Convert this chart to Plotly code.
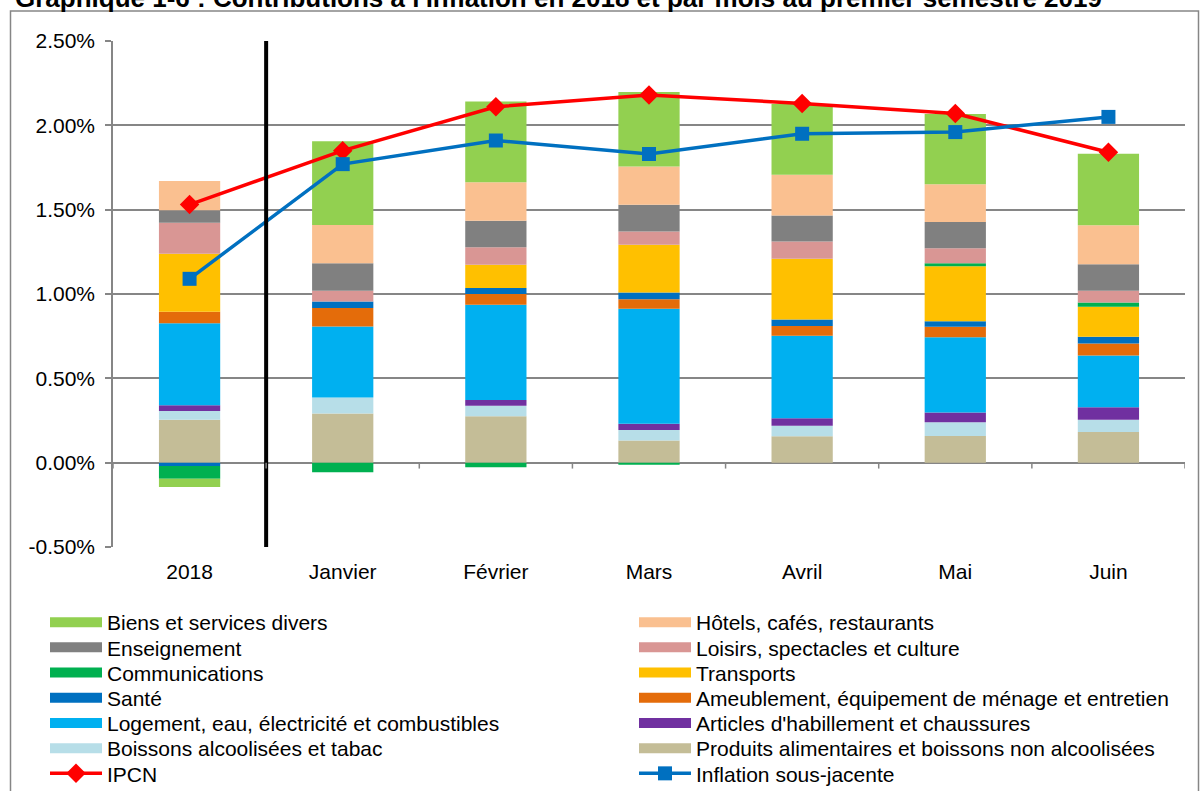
import plotly.graph_objects as go

categories = ["2018", "Janvier", "Février", "Mars", "Avril", "Mai", "Juin"]

# Contributions (en points de %), ordre d'empilement du bas vers le haut
produits_alim = [0.255, 0.292, 0.275, 0.132, 0.156, 0.158, 0.182]
boissons_tabac = [0.051, 0.095, 0.063, 0.062, 0.063, 0.081, 0.073]
habillement = [0.034, 0.000, 0.034, 0.036, 0.045, 0.059, 0.073]
logement = [0.486, 0.421, 0.565, 0.682, 0.488, 0.445, 0.308]
ameublement = [0.069, 0.109, 0.063, 0.057, 0.059, 0.063, 0.071]
sante = [-0.020, 0.038, 0.036, 0.040, 0.038, 0.032, 0.040]
transports = [0.344, 0.000, 0.138, 0.283, 0.360, 0.326, 0.178]
communications = [-0.075, -0.057, -0.027, -0.012, 0.000, 0.018, 0.024]
loisirs = [0.184, 0.065, 0.103, 0.079, 0.103, 0.089, 0.071]
enseignement = [0.073, 0.162, 0.158, 0.158, 0.154, 0.156, 0.156]
hotels = [0.174, 0.227, 0.227, 0.227, 0.241, 0.223, 0.231]
biens_divers = [-0.049, 0.496, 0.479, 0.441, 0.419, 0.417, 0.425]

ipcn = [1.53, 1.85, 2.11, 2.18, 2.13, 2.07, 1.84]
inflation_sj = [1.09, 1.77, 1.91, 1.83, 1.95, 1.96, 2.05]

y_ticks = [-0.5, 0.0, 0.5, 1.0, 1.5, 2.0, 2.5]
y_tick_labels = [f"{v:.2f}%" for v in y_ticks]

FONT = "Arial, Liberation Sans, sans-serif"

# (name, values, color, column, row)
bar_series = [
    ("Produits alimentaires et boissons non alcoolisées", produits_alim, "#C4BD97", 1, 5),
    ("Boissons alcoolisées et tabac", boissons_tabac, "#B7DEE8", 0, 5),
    ("Articles d'habillement et chaussures", habillement, "#7030A0", 1, 4),
    ("Logement, eau, électricité et combustibles", logement, "#00B0F0", 0, 4),
    ("Ameublement, équipement de ménage et entretien", ameublement, "#E46C0A", 1, 3),
    ("Santé", sante, "#0070C0", 0, 3),
    ("Transports", transports, "#FFC000", 1, 2),
    ("Communications", communications, "#00B050", 0, 2),
    ("Loisirs, spectacles et culture", loisirs, "#D99694", 1, 1),
    ("Enseignement", enseignement, "#808080", 0, 1),
    ("Hôtels, cafés, restaurants", hotels, "#FAC090", 1, 0),
    ("Biens et services divers", biens_divers, "#92D050", 0, 0),
]

def legend_id(col, row):
    n = row * 2 + col + 1
    return "legend" if n == 1 else f"legend{n}"

fig = go.Figure()
for name, vals, color, col, row in bar_series:
    fig.add_trace(go.Bar(
        x=categories, y=vals, name=name,
        marker=dict(color=color, line=dict(width=0)),
        width=0.4, showlegend=False,
    ))

fig.add_trace(go.Scatter(
    x=categories, y=ipcn, name="IPCN", mode="lines+markers",
    line=dict(color="#FF0000", width=3.5),
    marker=dict(symbol="diamond", size=15, color="#FF0000"),
    legend=legend_id(0, 6),
))
fig.add_trace(go.Scatter(
    x=categories, y=inflation_sj, name="Inflation sous-jacente", mode="lines+markers",
    line=dict(color="#0070C0", width=3.5),
    marker=dict(symbol="square", size=14, color="#0070C0"),
    legend=legend_id(1, 6),
))

# legend keys for the bar series (wide colour swatches, as in the original)
for name, vals, color, col, row in bar_series:
    fig.add_trace(go.Scatter(
        x=[None], y=[None], name=name, mode="lines",
        line=dict(color=color, width=10), legend=legend_id(col, row),
        hoverinfo="skip",
    ))

# Geometry
L, R, T, B = 113, 15, 41, 244
W, H = 1200, 791
pw, ph = W - L - R, H - T - B

def px_x(p):
    return (p - L) / pw

def px_y(p):
    return (H - B - p) / ph

shapes = []
shapes.append(dict(type="line", xref="x", yref="paper", x0=0.5, x1=0.5, y0=0, y1=1,
                   line=dict(color="black", width=4), layer="above"))
for i in range(len(categories) + 1):
    shapes.append(dict(type="line", xref="x", yref="y", x0=i - 0.5, x1=i - 0.5,
                       y0=0, y1=-0.035, line=dict(color="#868686", width=1.5), layer="above"))
shapes.append(dict(type="rect", xref="paper", yref="paper",
                   x0=px_x(10.5), x1=px_x(1198.5), y0=px_y(805), y1=px_y(11),
                   line=dict(color="#868686", width=1.5), fillcolor="rgba(0,0,0,0)", layer="below"))

layout_legends = {}
col_x = [45, 634]
row_y0, row_step = 622.5, 25.2
for col in range(2):
    for row in range(7):
        layout_legends[legend_id(col, row)] = dict(
            x=px_x(col_x[col]), y=px_y(row_y0 + row * row_step),
            xanchor="left", yanchor="middle", orientation="v", itemwidth=52,
            font=dict(family=FONT, size=21, color="black"),
            bgcolor="rgba(0,0,0,0)", borderwidth=0,
        )

fig.update_layout(
    width=W, height=H,
    margin=dict(l=L, r=R, t=T, b=B, autoexpand=False),
    barmode="relative",
    plot_bgcolor="white", paper_bgcolor="white",
    font=dict(family=FONT, size=21, color="black"),
    shapes=shapes,
    annotations=[dict(
        text="<b>Graphique 1-6 : Contributions à l'inflation en 2018 et par mois au premier semestre 2019</b>",
        xref="paper", yref="paper", x=px_x(13), y=px_y(-2), xanchor="left", yanchor="middle",
        showarrow=False, font=dict(family=FONT, size=26, color="black"),
    )],
    xaxis=dict(
        type="category", range=[-0.5, len(categories) - 0.5],
        showgrid=False, showline=False, zeroline=False, ticks="",
        tickfont=dict(size=21), ticklabelstandoff=10,
    ),
    yaxis=dict(
        range=[-0.5, 2.5], tickvals=y_ticks, ticktext=y_tick_labels,
        showgrid=True, gridcolor="#868686", gridwidth=1.5,
        zeroline=True, zerolinecolor="#868686", zerolinewidth=1.5,
        showline=True, linecolor="#868686", linewidth=1.5,
        ticks="outside", ticklen=6, tickcolor="#868686", tickwidth=1.5,
        tickfont=dict(size=21), ticklabelstandoff=6,
    ),
    showlegend=True,
    **layout_legends,
)

fig.write_html("out.html")
